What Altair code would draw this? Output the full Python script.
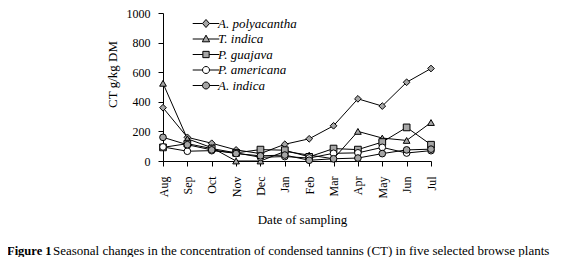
import altair as alt
import pandas as pd

months = ["Aug", "Sep", "Oct", "Nov", "Dec", "Jan", "Feb", "Mar", "Apr", "May", "Jun", "Jul"]
species = ["A. polyacantha", "T. indica", "P. guajava", "P. americana", "A. indica"]

a_polyacantha = [360, 160, 120, 75, 50, 113, 150, 238, 420, 371, 532, 625]
t_indica = [525, 150, 90, 0, 0, 65, 40, 15, 200, 155, 139, 260]
p_guajava = [92, 117, 84, 55, 77, 73, 28, 84, 77, 128, 227, 110]
p_americana = [95, 66, 70, 55, 25, 30, 20, 52, 55, 92, 54, 70]
a_indica = [160, 110, 75, 50, 35, 40, 5, 15, 20, 50, 75, 80]

y_ticks = [0, 200, 400, 600, 800, 1000]
caption_bold = "Figure 1"
caption_rest = "Seasonal changes in the concentration of condensed tannins (CT) in five selected browse plants"

series = [a_polyacantha, t_indica, p_guajava, p_americana, a_indica]
rows = []
for name, vals in zip(species, series):
    for m, v in zip(months, vals):
        rows.append({"month": m, "species": name, "value": v})
df = pd.DataFrame(rows)

GRAY = "#a6a6a6"
fills = [GRAY, GRAY, GRAY, "white", GRAY]
strokes = ["black"] * 5
shapes = ["diamond", "triangle-up", "square", "circle", "circle"]
# legend glyphs: short line through the marker
legend_paths = [
    "M-3.8,0L-1,0M1,0L3.8,0M0,-1.15L1,0L0,1.15L-1,0Z",
    "M-3.8,0L-0.6,0M0.6,0L3.8,0M0,-1.1L1.05,0.8L-1.05,0.8Z",
    "M-3.8,0L-0.9,0M0.9,0L3.8,0M-0.9,-0.9L0.9,-0.9L0.9,0.9L-0.9,0.9Z",
    "M-3.8,0L-1,0M1,0L3.8,0M1,0A1,1,0,1,1,-1,0A1,1,0,1,1,1,0Z",
    "M-3.8,0L-1,0M1,0L3.8,0M1,0A1,1,0,1,1,-1,0A1,1,0,1,1,1,0Z",
]

FONT = "Liberation Serif, Times New Roman, serif"

x_enc = alt.X(
    "month:N",
    sort=months,
    scale=alt.Scale(type="point", padding=0),
    axis=alt.Axis(
        title="Date of sampling",
        labelAngle=-90,
        labelFont=FONT,
        labelFontSize=12,
        labelColor="black",
        tickSize=5,
        labelPadding=10,
        domainColor="black",
        tickColor="black",
        grid=False,
        titleFont=FONT,
        titleFontSize=13,
        titleFontWeight="normal",
        titleColor="black",
        titlePadding=16,
        titleX=139,
    ),
)
y_enc = alt.Y(
    "value:Q",
    scale=alt.Scale(domain=[0, 1000]),
    axis=alt.Axis(
        title="CT g/kg DM",
        values=y_ticks,
        format="d",
        labelFont=FONT,
        labelFontSize=12,
        labelColor="black",
        tickSize=5,
        labelPadding=8,
        domainColor="black",
        tickColor="black",
        grid=False,
        titleFont=FONT,
        titleFontSize=13,
        titleFontWeight="normal",
        titleColor="black",
        titlePadding=7,
        titleY=61,
    ),
)

base = alt.Chart(df)

lines = base.mark_line(color="black", strokeWidth=1).encode(
    x=x_enc, y=y_enc, detail="species:N"
)

points = base.mark_point(filled=True, stroke="black", strokeWidth=1, size=45, opacity=1).encode(
    x=x_enc,
    y=y_enc,
    shape=alt.Shape("species:N", scale=alt.Scale(domain=species, range=shapes), legend=None),
    fill=alt.Fill("species:N", scale=alt.Scale(domain=species, range=fills), legend=None),
)

leg = alt.Legend(
    title=None,
    orient="none",
    legendX=36.5,
    legendY=4,
    padding=0,
    labelFont=FONT,
    labelFontStyle="italic",
    labelFontSize=13,
    labelColor="black",
    labelOffset=5.5,
    symbolSize=49,
    symbolOpacity=1,
    symbolStrokeWidth=1,
    rowPadding=1.5,
)

legend_layer = base.mark_point(filled=True, strokeWidth=1, size=0).encode(
    x=x_enc,
    y=y_enc,
    shape=alt.Shape("species:N", scale=alt.Scale(domain=species, range=legend_paths), legend=leg),
    fill=alt.Fill("species:N", scale=alt.Scale(domain=species, range=fills), legend=leg),
    stroke=alt.Stroke("species:N", scale=alt.Scale(domain=species, range=strokes), legend=leg),
)

cap1 = alt.Chart(pd.DataFrame({"t": [caption_bold]})).mark_text(
    align="left", baseline="alphabetic", font=FONT, fontSize=12.5, fontWeight="bold", color="black"
).encode(x=alt.value(-156), y=alt.value(242), text="t:N")

cap2 = alt.Chart(pd.DataFrame({"t": [caption_rest]})).mark_text(
    align="left", baseline="alphabetic", font=FONT, fontSize=13, color="black"
).encode(x=alt.value(-110), y=alt.value(242), text="t:N")

chart = (
    alt.layer(lines, points, legend_layer, cap1, cap2)
    .resolve_scale(shape="independent", fill="independent", stroke="independent")
    .properties(
        width=268,
        height=148,
        autosize=alt.AutoSizeParams(type="none"),
        padding={"left": 155, "top": 5, "right": 137, "bottom": 96},
        background="white",
    )
    .configure_view(stroke=None)
)

chart.save("out.html", embed_options={"renderer": "svg", "actions": False})
